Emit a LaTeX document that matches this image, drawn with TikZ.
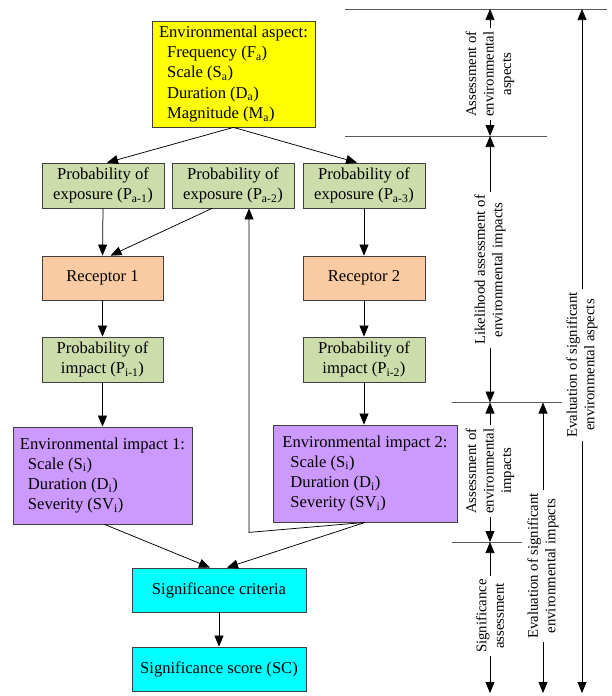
\documentclass[tikz,border=0pt]{standalone}
\usepackage{fontspec}
\setmainfont{Liberation Serif}
\usetikzlibrary{arrows.meta,calc}
\definecolor{cyel}{HTML}{FFFF00}
\definecolor{cgrn}{HTML}{CCDCAA}
\definecolor{corg}{HTML}{FACBA3}
\definecolor{cpur}{HTML}{CC99FF}
\definecolor{ccyn}{HTML}{00FFFF}
\definecolor{cedge}{HTML}{404040}
\begin{document}
\begin{tikzpicture}[x=1pt,y=-1pt,
  box/.style={draw=cedge, line width=0.8pt, inner sep=0pt, align=center, font=\fontsize{16.6}{20.3}\selectfont},
  lbox/.style={box, align=left},
  arr/.style={draw=black, line width=0.75pt, -{Triangle[length=11pt,width=9pt]}},
  hline/.style={draw=black!65, line width=0.8pt},
  vlab/.style={rotate=90, align=center, inner sep=3pt, font=\fontsize{14.75}{17.5}\selectfont},
  vline/.style={draw=black, line width=0.75pt, -{Triangle[length=11pt,width=9pt]}},
]
\useasboundingbox (0,0) rectangle (611,696);

% main chart
\node[lbox, fill=cyel, minimum width=163pt, minimum height=106pt] (asp) at (233.5,74)
  {Environmental aspect:\\\hspace*{8pt}Frequency (F\textsubscript{a})\\\hspace*{8pt}Scale (S\textsubscript{a})\\\hspace*{8pt}Duration (D\textsubscript{a})\\\hspace*{8pt}Magnitude (M\textsubscript{a})};

\node[box, fill=cgrn, minimum width=122pt, minimum height=45pt] (pa1) at (103,185.5) {Probability of\\exposure (P\textsubscript{a-1})};
\node[box, fill=cgrn, minimum width=122pt, minimum height=45pt] (pa2) at (233,185.5) {Probability of\\exposure (P\textsubscript{a-2})};
\node[box, fill=cgrn, minimum width=122pt, minimum height=45pt] (pa3) at (364,185.5) {Probability of\\exposure (P\textsubscript{a-3})};

\node[box, fill=corg, minimum width=121pt, minimum height=44pt] (r1) at (102.5,278) {Receptor 1};
\node[box, fill=corg, minimum width=122pt, minimum height=44pt] (r2) at (364,278) {Receptor 2};

\node[box, fill=cgrn, minimum width=121pt, minimum height=45pt] (pi1) at (102.5,359.5) {Probability of\\impact (P\textsubscript{i-1})};
\node[box, fill=cgrn, minimum width=122pt, minimum height=45pt] (pi2) at (364,359.5) {Probability of\\impact (P\textsubscript{i-2})};

\node[lbox, fill=cpur, minimum width=179pt, minimum height=97pt] (ei1) at (102.5,475.5)
  {Environmental impact 1:\\\hspace*{8pt}Scale (S\textsubscript{i})\\\hspace*{8pt}Duration (D\textsubscript{i})\\\hspace*{8pt}Severity (SV\textsubscript{i})};
\node[lbox, fill=cpur, minimum width=184pt, minimum height=97pt] (ei2) at (365,473.5)
  {Environmental impact 2:\\\hspace*{8pt}Scale (S\textsubscript{i})\\\hspace*{8pt}Duration (D\textsubscript{i})\\\hspace*{8pt}Severity (SV\textsubscript{i})};

\node[box, fill=ccyn, minimum width=174pt, minimum height=44pt] (sc) at (219,590) {Significance criteria};
\node[box, fill=ccyn, minimum width=174pt, minimum height=44pt] (ss) at (219,669) {Significance score (SC)};

\draw[arr] (asp.south) -- ([xshift=4pt]pa1.north);
\draw[arr] (asp.south) -- ([xshift=-7pt]pa3.north);
\draw[arr] (pa1.south) -- (r1.north);
\draw[arr] ([xshift=-21pt]pa2.south) -- ([xshift=8pt]r1.north);
\draw[arr] (pa3.south) -- (r2.north);
\draw[arr] (r1) -- (pi1);
\draw[arr] (r2) -- (pi2);
\draw[arr] (pi1) -- (pi1 |- ei1.north);
\draw[arr] (pi2) -- (pi2 |- ei2.north);
\draw[arr] ([xshift=2pt]ei1.south) -- ([xshift=-9pt]sc.north);
\draw[arr] (ei2.south) -- ([xshift=8pt]sc.north);
\draw[arr] (ei2.south) -- ++(-116,10) coordinate (fb) -- (fb |- pa2.south);
\draw[arr] (sc) -- (ss);

% right-hand scale
\coordinate (t1) at (345,9);   \coordinate (t2) at (607,9);
\coordinate (m1) at (345,136); \coordinate (m2) at (547,136);
\coordinate (l1) at (452,402.5); \coordinate (l2) at (562,402.5);
\coordinate (s1) at (452,542); \coordinate (s2) at (522,542);
\coordinate (bot) at (0,693);
\draw[hline] (t1) -- (t2);
\draw[hline] (m1) -- (m2);
\draw[hline] (l1) -- (l2);
\draw[hline] (s1) -- (s2);

\node[vlab] (la) at (490,74) {Assessment of\\environmental\\aspects};
\draw[vline] (la.east) -- (la.east |- t1);
\draw[vline] (la.west) -- (la.west |- m1);

\node[vlab] (lb) at (490,270) {Likelihood assessment of\\environmental impacts};
\draw[vline] (lb.east) -- (lb.east |- m1);
\draw[vline] (lb.west) -- (lb.west |- l1);

\node[vlab] (lc) at (490,471) {Assessment of\\environmental\\impacts};
\draw[vline] (lc.east) -- (lc.east |- l1);
\draw[vline] (lc.west) -- (lc.west |- s1);

\node[vlab] (ld) at (490,616) {Significance\\assessment};
\draw[vline] (ld.east) -- (ld.east |- s1);
\draw[vline] (ld.west) -- (ld.west |- bot);

\node[vlab] (le) at (543,566) {Evaluation of significant\\environmental impacts};
\draw[vline] (le.east) -- (le.east |- l1);
\draw[vline] (le.west) -- (le.west |- bot);

\node[vlab] (lf) at (582,365) {Evaluation of significant\\environmental aspects};
\draw[vline] (lf.east) -- (lf.east |- t1);
\draw[vline] (lf.west) -- (lf.west |- bot);
\end{tikzpicture}
\end{document}
